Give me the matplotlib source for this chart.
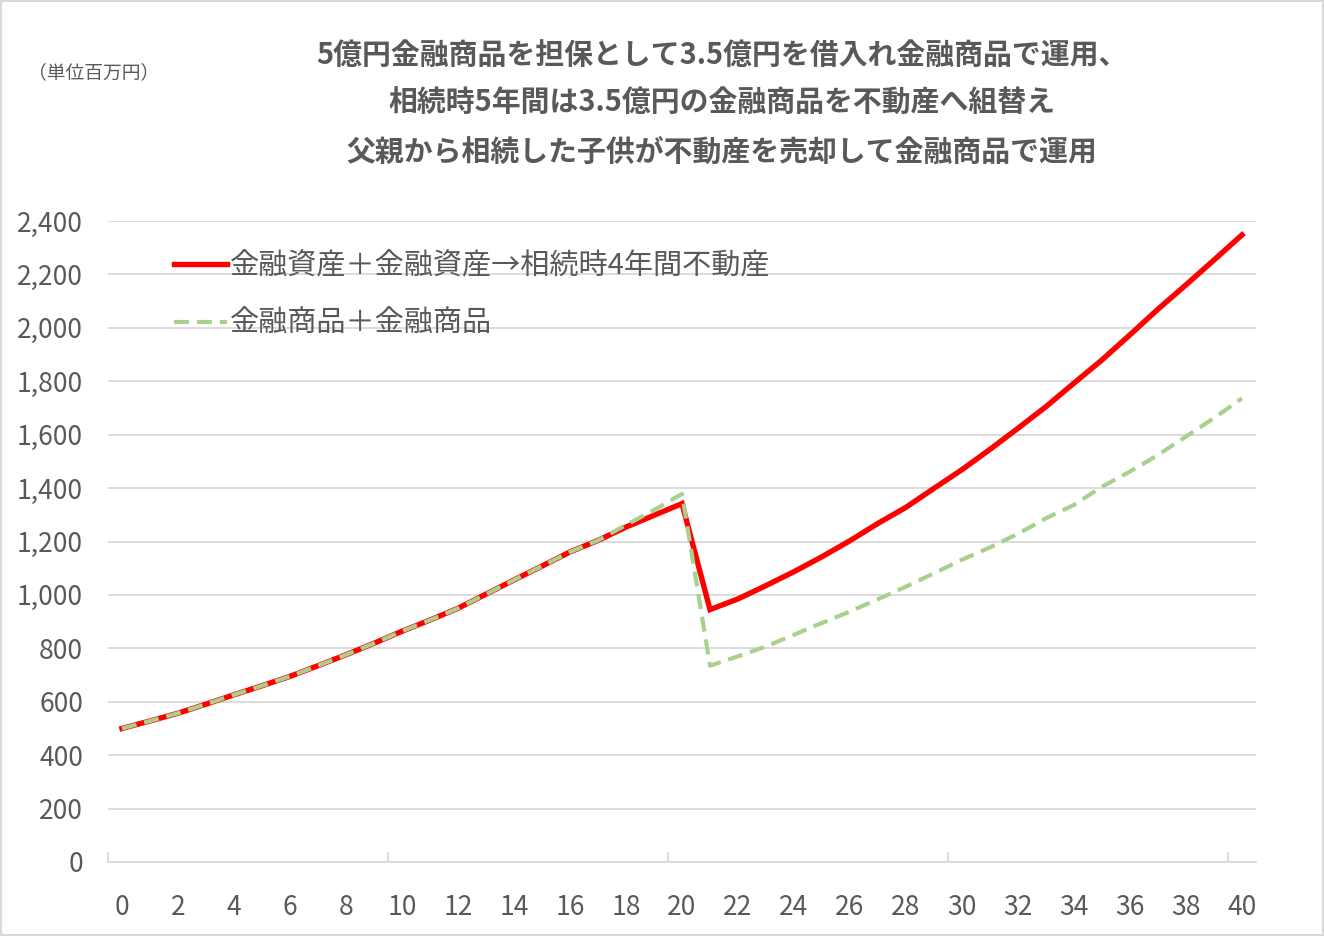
import matplotlib
matplotlib.use("Agg")
import matplotlib.pyplot as plt
from matplotlib.patches import Rectangle
from matplotlib.ticker import FixedLocator, FuncFormatter

plt.rcParams['font.family'] = ['Noto Sans CJK JP', 'DejaVu Sans']

# years 0..40
years = list(range(41))

# 金融資産＋金融資産→相続時4年間不動産 (百万円)
red_vals = [500, 528, 557, 591, 626, 660, 695, 735, 776, 819,
            864, 906, 950, 1003, 1056, 1108, 1161, 1204, 1254, 1298,
            1342, 945, 985, 1035, 1087, 1143, 1203, 1268, 1328, 1399,
            1469, 1545, 1624, 1705, 1793, 1880, 1974, 2070, 2161, 2254,
            2348]

# 金融商品＋金融商品 (百万円)
green_vals = [500, 528, 557, 591, 626, 660, 695, 735, 776, 819,
              864, 906, 950, 1003, 1056, 1108, 1161, 1204, 1262, 1318,
              1378, 735, 770, 807, 851, 895, 938, 984, 1031, 1081,
              1132, 1178, 1229, 1287, 1337, 1405, 1462, 1524, 1593, 1662,
              1736]

red_label = '金融資産＋金融資産→相続時4年間不動産'
green_label = '金融商品＋金融商品'
title_lines = ['5億円金融商品を担保として3.5億円を借入れ金融商品で運用、',
               '相続時5年間は3.5億円の金融商品を不動産へ組替え',
               '父親から相続した子供が不動産を売却して金融商品で運用']
unit_text = '（単位百万円）'

text_col = '#595959'
grid_col = '#d9d9d9'

fig = plt.figure(figsize=(13.24, 9.36), dpi=100)
ax = fig.add_axes([108 / 1324, 1 - 862 / 936, 1148 / 1324, 641 / 936])

ax.plot(years, red_vals, color='#ff0000', lw=3.9, label=red_label,
        solid_joinstyle='miter', zorder=3)
ax.plot(years, green_vals, color='#a9d18e', lw=3.0, dashes=(3.6, 1.9),
        label=green_label, zorder=4)

ax.set_xlim(-0.5, 40.5)
ax.set_ylim(0, 2400)

ax.set_yticks(range(0, 2401, 200))
ax.yaxis.set_major_formatter(FuncFormatter(lambda v, p: f'{int(v):,}'))
ax.yaxis.grid(True, color=grid_col, lw=1.3)
ax.set_axisbelow(True)

ax.set_xticks(years[::2])
ax.xaxis.set_minor_locator(FixedLocator([-0.5, 9.5, 19.5, 29.5, 39.5]))
ax.tick_params(axis='x', which='major', length=0, pad=23, labelsize=19,
               labelcolor=text_col)
ax.tick_params(axis='x', which='minor', direction='in', length=7,
               color=grid_col, width=1.3)
ax.tick_params(axis='y', length=0, pad=18, labelsize=19, labelcolor=text_col)

for side in ['top', 'right', 'left']:
    ax.spines[side].set_visible(False)
ax.spines['bottom'].set_color(grid_col)
ax.spines['bottom'].set_linewidth(1.3)

leg = ax.legend(loc='upper left', bbox_to_anchor=(0.04, 0.985), frameon=False,
                fontsize=21, handlelength=1.8, handletextpad=0.1,
                labelspacing=0.95, borderpad=0.2)
for t in leg.get_texts():
    t.set_color(text_col)

title_y = [55, 103, 152]
for line, y in zip(title_lines, title_y):
    fig.text(722 / 1324, 1 - y / 936, line, ha='center', va='center',
             fontsize=20.8, fontweight='bold', color=text_col)

fig.text(28 / 1324, 1 - 73 / 936, unit_text, ha='left', va='center',
         fontsize=13.5, color=text_col)

fig.patches.append(Rectangle((0.001, 0.001), 0.998, 0.998, transform=fig.transFigure,
                             fill=False, edgecolor=grid_col, lw=1.5))

fig.savefig('out.png', dpi=100)
